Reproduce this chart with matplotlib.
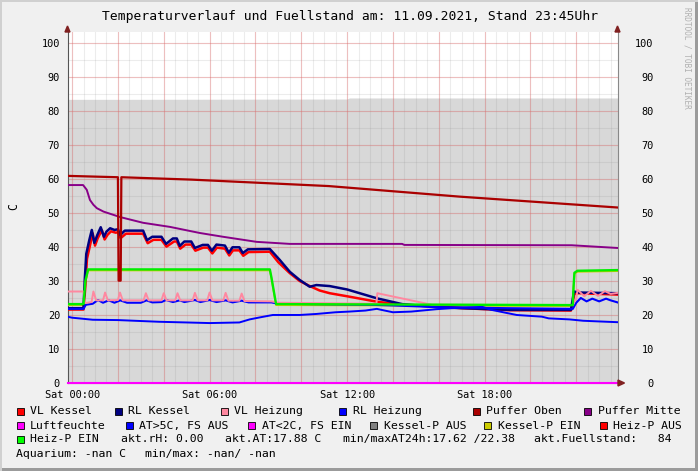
import matplotlib
matplotlib.use("Agg")
import matplotlib.pyplot as plt
from matplotlib.patches import Rectangle, Polygon
import numpy as np

plt.rcParams['font.family'] = ['DejaVu Sans Mono']

W, H = 698, 471

title = "Temperaturverlauf und Fuellstand am: 11.09.2021, Stand 23:45Uhr"
xtick_pos = [0, 6, 12, 18]
xtick_labels = ["Sat 00:00", "Sat 06:00", "Sat 12:00", "Sat 18:00"]
ytick_vals = [0, 10, 20, 30, 40, 50, 60, 70, 80, 90, 100]

# ---- data (hours of the day, degrees C / percent) ----
t_fuell = [-0.2, 2.0, 12.0, 12.1, 23.8]
fuellstand = [83.4, 83.4, 83.5, 83.8, 83.8]

t_oben = [-0.2, 2.0, 2.03, 2.12, 2.15, 5.2, 11.2, 16.9, 23.8]
puffer_oben = [60.9, 60.5, 30.1, 30.1, 60.5, 59.8, 57.9, 54.8, 51.6]

t_mitte = [-0.2, 0.48, 0.64, 0.78, 0.93, 1.08, 1.37, 2.09, 3.1, 4.27, 5.14, 5.58,
           6.58, 8.05, 9.5, 14.4, 14.5, 21.8, 23.8]
puffer_mitte = [58.2, 58.2, 56.8, 53.8, 52.4, 51.4, 50.4, 48.8, 47.1, 45.9, 44.7, 44.1,
                43.0, 41.5, 40.9, 40.9, 40.6, 40.5, 39.7]

t_rlk = [-0.2, 0.5, 0.55, 0.62, 0.75, 0.86, 0.97, 1.1, 1.25, 1.39, 1.5, 1.66, 1.85,
         2.0, 2.1, 2.3, 3.1, 3.27, 3.5, 3.9, 4.1, 4.4, 4.57, 4.7, 4.9, 5.2, 5.36,
         5.7, 5.93, 6.1, 6.3, 6.67, 6.84, 7.0, 7.3, 7.45, 7.67, 8.63, 9.06, 9.5,
         9.93, 10.37, 10.66, 11.24, 12.0, 13.3, 14.4, 15.9, 17.0, 19.1, 21.77,
         21.9, 22.1, 23.8]
rl_kessel = [22.0, 22.0, 30.0, 38.0, 42.0, 45.0, 41.2, 43.5, 45.8, 43.0, 44.5, 45.5,
             45.0, 45.2, 43.5, 44.8, 44.8, 42.0, 43.0, 43.0, 40.9, 42.5, 42.5, 40.3,
             41.6, 41.6, 39.7, 40.6, 40.6, 38.9, 40.7, 40.4, 38.3, 39.9, 39.9, 38.2,
             39.3, 39.4, 36.2, 32.7, 30.3, 28.3, 28.8, 28.5, 27.5, 24.9, 23.2, 22.3,
             22.0, 21.5, 21.5, 26.9, 26.6, 26.4]

t_vlk = [-0.2, 0.5, 0.58, 0.65, 0.8, 0.9, 1.0, 1.12, 1.3, 1.42, 1.55, 1.7, 1.9,
         2.0, 2.12, 2.35, 3.1, 3.3, 3.55, 3.9, 4.12, 4.45, 4.57, 4.72, 4.95, 5.2,
         5.38, 5.72, 5.93, 6.12, 6.32, 6.67, 6.86, 7.02, 7.3, 7.47, 7.7, 8.63, 9.0,
         9.5, 9.93, 10.37, 10.8, 11.24, 12.0, 13.3, 14.4, 15.9, 17.0, 19.1, 21.77,
         21.92, 22.1, 23.8]
vl_kessel = [21.6, 21.6, 28.5, 36.5, 41.0, 44.0, 40.4, 42.6, 44.9, 42.2, 43.6, 44.6,
             44.2, 44.3, 42.6, 43.9, 43.9, 41.1, 42.1, 42.1, 40.1, 41.6, 41.6, 39.5,
             40.7, 40.7, 38.9, 39.8, 39.8, 38.1, 39.8, 39.5, 37.5, 39.0, 39.0, 37.4,
             38.5, 38.6, 35.5, 32.3, 30.0, 28.5, 27.2, 26.4, 25.5, 23.9, 23.0, 22.6,
             22.0, 21.4, 21.3, 26.2, 26.4, 26.0]

t_vlh = [-0.2, 0.5, 0.56, 0.85, 0.93, 1.05, 1.35, 1.44, 1.56, 2.0, 2.09, 2.21, 3.12,
         3.22, 3.34, 3.9, 4.0, 4.12, 4.5, 4.6, 4.72, 5.26, 5.36, 5.48, 5.9, 6.0,
         6.12, 6.6, 6.7, 6.82, 7.3, 7.4, 7.52, 8.7, 9.0, 13.28, 13.32, 15.7, 21.85,
         22.0, 22.06, 22.35, 22.64, 22.95, 23.25, 23.5, 23.8]
vl_heizung = [26.9, 26.9, 23.5, 23.8, 26.9, 24.3, 24.3, 26.6, 24.3, 24.4, 26.6, 24.3,
              24.3, 26.4, 24.3, 24.3, 26.4, 24.3, 24.3, 26.4, 24.3, 24.3, 26.5, 24.3,
              24.3, 26.6, 24.3, 24.3, 26.5, 24.2, 24.2, 26.3, 24.1, 24.0, 23.6, 23.3,
              26.4, 23.0, 22.9, 25.0, 27.4, 25.5, 27.1, 25.6, 27.0, 26.2, 26.5]

t_rlh = [-0.2, 0.5, 0.6, 0.9, 1.13, 1.35, 1.6, 1.85, 2.1, 2.4, 3.0, 3.25, 3.5, 3.9,
         4.1, 4.4, 4.7, 4.9, 5.36, 5.6, 6.0, 6.3, 6.7, 7.0, 7.4, 7.7, 8.7, 9.0,
         13.0, 14.0, 16.0, 19.0, 21.85, 22.0, 22.2, 22.45, 22.7, 23.0, 23.3, 23.5, 23.8]
rl_heizung = [21.8, 21.8, 23.0, 23.3, 24.4, 23.6, 24.3, 23.6, 24.3, 23.6, 23.6, 24.3,
              23.7, 23.8, 24.4, 23.8, 24.3, 23.8, 24.4, 23.8, 24.4, 23.8, 24.3, 23.7,
              24.2, 23.7, 23.7, 23.3, 23.0, 22.8, 22.3, 22.0, 21.8, 23.6, 25.0, 24.0,
              24.8, 24.0, 24.8, 24.3, 23.7]

t_at = [-0.2, 0.0, 0.9, 2.0, 3.8, 5.0, 6.0, 7.3, 7.75, 8.2, 8.76, 9.93, 10.66, 11.5,
        12.1, 12.8, 13.3, 13.5, 14.0, 14.8, 15.9, 16.8, 17.9, 18.3, 19.4, 20.5, 20.8,
        21.7, 22.3, 23.0, 23.8]
aussentemp = [19.5, 19.2, 18.6, 18.5, 18.0, 17.8, 17.62, 17.8, 18.7, 19.3, 20.0, 20.0,
              20.3, 20.8, 21.0, 21.3, 21.8, 21.5, 20.8, 21.0, 21.7, 22.1, 22.38, 21.5,
              20.0, 19.5, 19.0, 18.7, 18.3, 18.1, 17.88]

t_heizp = [-0.2, 0.5, 0.58, 0.7, 8.63, 8.7, 8.9, 21.85, 21.88, 21.92, 22.05, 23.8]
heizp_ein = [23.2, 23.2, 30.0, 33.4, 33.4, 31.0, 23.2, 22.9, 28.0, 32.4, 33.0, 33.2]
kesselp_ein = [22.9, 22.9, 29.7, 33.1, 33.1, 30.7, 22.9, 22.6, 27.7, 32.1, 32.7, 32.9]

t_luft = [-0.2, 23.8]
luftfeuchte = [0.0, 0.0]

legend_rows = [
    [("VL Kessel", "#ff0000", 16.5), ("RL Kessel", "#000080", 115),
     ("VL Heizung", "#ff88a0", 221), ("RL Heizung", "#0000ff", 339),
     ("Puffer Oben", "#aa0000", 473), ("Puffer Mitte", "#880088", 584)],
    [("Luftfeuchte", "#ff00ff", 16.5), ("AT>5C, FS AUS", "#0000ff", 125.6),
     ("AT<2C, FS EIN", "#ff00ff", 248), ("Kessel-P AUS", "#808080", 370.4),
     ("Kessel-P EIN", "#cccc00", 484), ("Heiz-P AUS", "#ff0000", 599.7)],
    [("Heiz-P EIN", "#00ff00", 16.5)],
]
row_y = [411, 425.7, 439, 453.7]
info_row3 = [("akt.rH: 0.00", 121), ("akt.AT:17.88 C", 224.8),
             ("min/maxAT24h:17.62 /22.38", 342.8), ("akt.Fuellstand:   84", 534.3)]
info_row4 = [("Aquarium: -nan C", 16.5), ("min/max: -nan/ -nan", 144.7)]

# ---- figure ----
fig = plt.figure(figsize=(W / 100, H / 100), dpi=100, facecolor="#f0f0f0")

def fx(x):
    return x / W

def fy(y):
    return 1 - y / H

ax_l, ax_r, ax_t, ax_b = 67.5, 617.5, 32, 383
ax = fig.add_axes([fx(ax_l), fy(ax_b), (ax_r - ax_l) / W, (ax_b - ax_t) / H])
ax.set_facecolor("white")
ax.set_xlim(-0.2, 23.8)
ax.set_ylim(0, 103.2)

# area
ax.fill_between(t_fuell, 0, fuellstand, color="#d8d8d8", lw=0, zorder=1)

# grid
for x in np.arange(0, 24, 0.5):
    ax.axvline(x, color="#8c8c8c", alpha=0.16, lw=0.8, zorder=2)
for y in np.arange(5, 104, 5):
    ax.axhline(y, color="#8c8c8c", alpha=0.16, lw=0.8, zorder=2)
for x in np.arange(0, 24, 2):
    ax.axvline(x, color="#f06060", alpha=0.32, lw=0.8, zorder=2)
for y in np.arange(10, 104, 10):
    ax.axhline(y, color="#f06060", alpha=0.32, lw=0.8, zorder=2)

# lines
ax.plot(t_heizp, kesselp_ein, color="#cccc00", lw=1.3, zorder=3)
ax.plot(t_vlk, vl_kessel, color="#ff0000", lw=1.8, zorder=4)
ax.plot(t_rlk, rl_kessel, color="#000080", lw=1.8, zorder=5)
ax.plot(t_at, aussentemp, color="#0000ff", lw=1.4, zorder=5)
ax.plot(t_rlh, rl_heizung, color="#0000ff", lw=1.5, zorder=6)
ax.plot(t_vlh, vl_heizung, color="#ff88a0", lw=1.4, zorder=6)
ax.plot(t_heizp, heizp_ein, color="#00ee00", lw=1.7, zorder=7)
ax.plot(t_mitte, puffer_mitte, color="#880088", lw=1.4, zorder=7)
ax.plot(t_oben, puffer_oben, color="#aa0000", lw=1.6, zorder=8)
ax.plot(t_luft, luftfeuchte, color="#ff00ff", lw=1.5, zorder=9, clip_on=False)

# spines
ax.spines["top"].set_visible(False)
ax.spines["left"].set_color("#555555")
ax.spines["right"].set_color("#888888")
ax.spines["bottom"].set_color("#555555")
for s in ["left", "right", "bottom"]:
    ax.spines[s].set_linewidth(0.8)

# ticks
ax.set_xticks(xtick_pos)
ax.set_xticklabels(xtick_labels)
ax.set_yticks(ytick_vals)
ax.set_yticklabels([str(v) for v in ytick_vals])
ax.tick_params(axis="x", length=0, pad=5, labelsize=7.4)
ax.tick_params(axis="y", length=0, pad=5.4, labelsize=7.4)

sec = ax.secondary_yaxis("right")
sec.set_yticks(ytick_vals)
sec.set_yticklabels([str(v) for v in ytick_vals])
sec.tick_params(length=0, pad=26, labelsize=7.4)
for lab in sec.get_yticklabels():
    lab.set_horizontalalignment("right")
sec.spines["right"].set_visible(False)

# y label
fig.text(fx(14), fy(206.5), "C", rotation=90, ha="center", va="center", fontsize=8.3)

# title
fig.text(fx(350.5), fy(16.5), title, ha="center", va="center", fontsize=9.4)

# watermark
fig.text(fx(687.5), fy(58), "RRDTOOL / TOBI OETIKER", rotation=270, ha="center",
         va="center", fontsize=5.6, color="#b0b0b0")

# arrows
arrow_col = "#802020"
for xa in (ax_l, ax_r):
    fig.add_artist(Polygon([[fx(xa - 2.5), fy(32)], [fx(xa + 2.5), fy(32)], [fx(xa), fy(26)]],
                           closed=True, color=arrow_col, transform=fig.transFigure))
fig.add_artist(Polygon([[fx(618), fy(380)], [fx(618), fy(386)], [fx(624.5), fy(383)]],
                       closed=True, color=arrow_col, transform=fig.transFigure))

# border shading
fig.add_artist(Rectangle((fx(695), 0), 3 / W, 1, color="#9b9b9b", transform=fig.transFigure, lw=0))
fig.add_artist(Rectangle((0, 0), 1, 3 / H, color="#9b9b9b", transform=fig.transFigure, lw=0))
fig.add_artist(Rectangle((0, 0), 2 / W, 1, color="#d0d0d0", transform=fig.transFigure, lw=0))
fig.add_artist(Rectangle((0, 1 - 2 / H), 1, 2 / H, color="#d0d0d0", transform=fig.transFigure, lw=0))

# legend
lfs = 8.25
for r, row in enumerate(legend_rows):
    yc = row_y[r]
    for label, col, xs in row:
        fig.add_artist(Rectangle((fx(xs), fy(yc + 3.5)), 7 / W, 7 / H, facecolor=col,
                                 edgecolor="black", lw=0.6, transform=fig.transFigure))
        fig.text(fx(xs + 13.5), fy(yc), label, ha="left", va="center", fontsize=lfs)
for label, xs in info_row3:
    fig.text(fx(xs), fy(row_y[2]), label, ha="left", va="center", fontsize=lfs)
for label, xs in info_row4:
    fig.text(fx(xs), fy(row_y[3]), label, ha="left", va="center", fontsize=lfs)

fig.savefig("out.png", dpi=100, facecolor=fig.get_facecolor())
